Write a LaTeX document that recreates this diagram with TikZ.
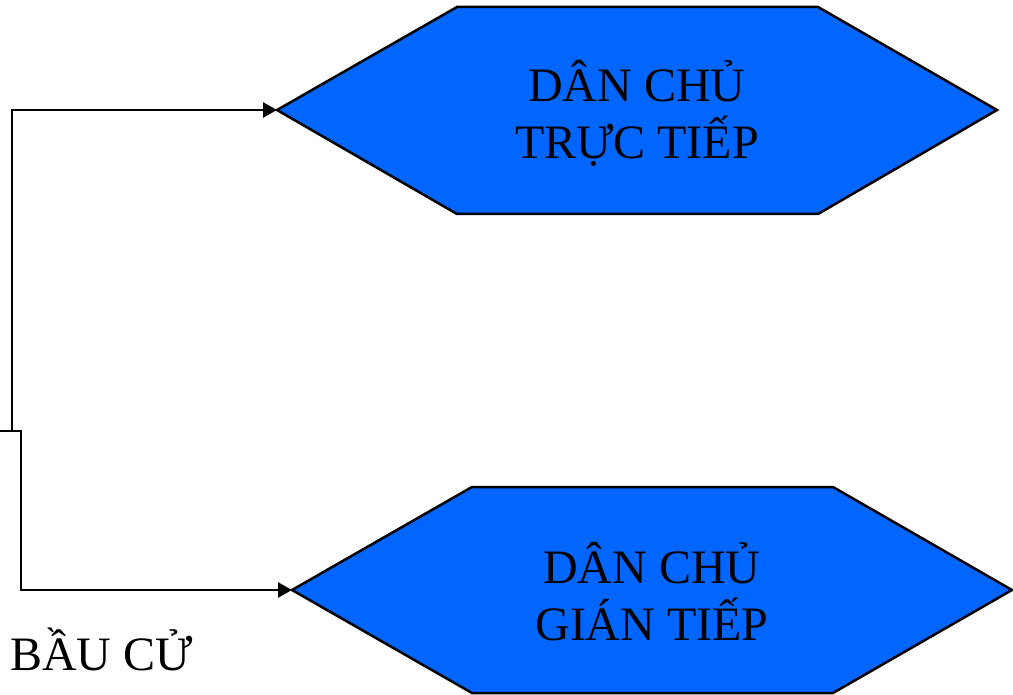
\documentclass[tikz,border=0pt]{standalone}
\usepackage{fontspec}
\setmainfont{Liberation Serif}
\usetikzlibrary{arrows.meta}
\definecolor{hexblue}{HTML}{0066FF}
\begin{document}
\begin{tikzpicture}[x=1pt,y=-1pt,
  hexa/.style={draw=black,line width=2.5pt,fill=hexblue,line join=miter},
  lbl/.style={font=\fontsize{48}{57}\selectfont,align=center,inner sep=0pt},
  conn/.style={draw=black,line width=2.6pt,-{Triangle[length=14pt,width=15pt]}}]
\useasboundingbox (0,0) rectangle (1013,695);
\draw[hexa] (277,110) coordinate (h1w) -- (457,7) -- (818,7) -- (997,110) -- (818,214) -- (457,214) -- cycle;
\node[lbl] (t1) at (637,113) {DÂN CHỦ\\TRỰC TIẾP};
\draw[hexa] (292,590) coordinate (h2w) -- (472,487) -- (833,487) -- (1012,590) -- (833,693) -- (472,693) -- cycle;
\node[lbl] (t2) at (652,592) {DÂN CHỦ\\GIÁN TIẾP};
\coordinate (src) at (0,431);
\coordinate (k1) at (12,431);
\coordinate (k2) at (21,431);
\draw[conn] (src) -- (k1) |- (h1w);
\draw[conn] (src) -- (k2) |- (h2w);
\node[lbl,anchor=base west] (vote) at (10,670) {BẦU CỬ};
\end{tikzpicture}
\end{document}
